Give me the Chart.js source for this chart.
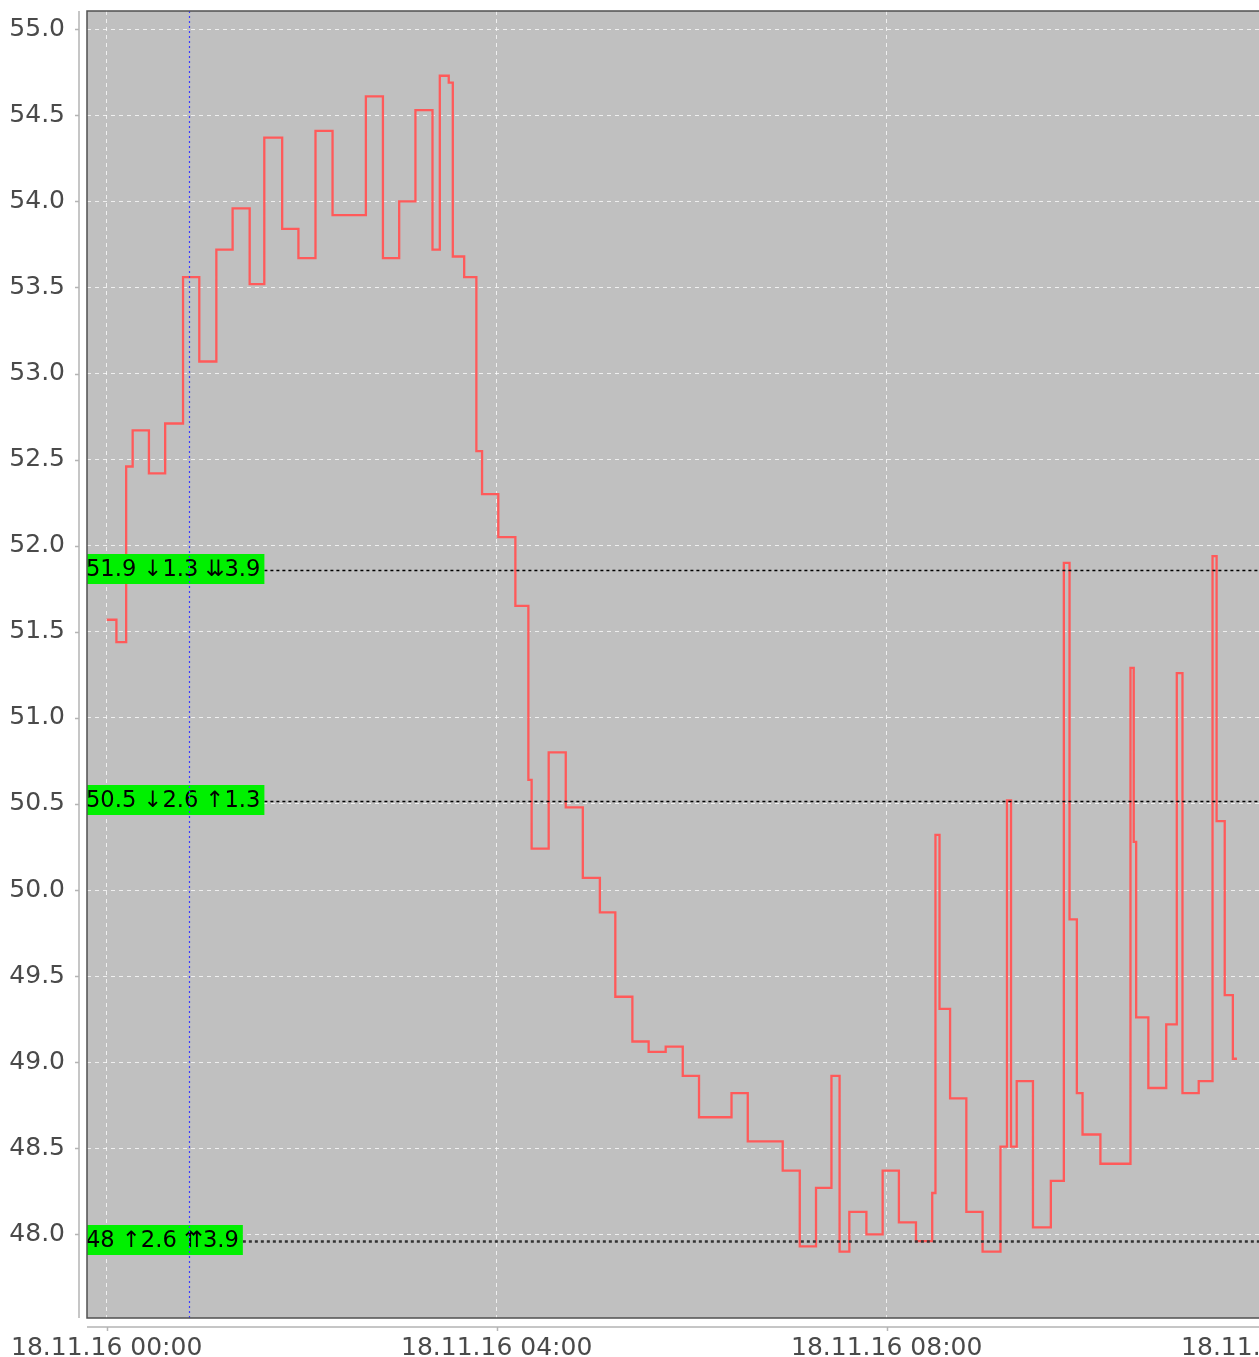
<!DOCTYPE html>
<html>
<head>
<meta charset="utf-8">
<script src="https://cdn.jsdelivr.net/npm/chart.js@4/dist/chart.umd.min.js"></script>
<style>
  html, body { margin: 0; padding: 0; background: #fff; overflow: hidden; }
</style>
</head>
<body>
<canvas id="myChart" width="1400" height="1357"></canvas>
<script>
// minutes since 18.11.16 00:00, each value holds until the next point
let minutes = [0, 6, 12, 16, 26, 36, 47, 57, 67.5, 77.5, 88, 97, 108, 118, 128.5, 139, 159.5, 170, 180, 190,
    200.5, 205, 210.5, 213, 220, 227.5, 231, 241, 251.5, 259.5, 261.5, 272, 282.5, 293, 303.5, 313, 323.5, 333.5,
    344, 354.5, 364.5, 384.5, 394.5, 416, 426.5, 436.5, 446, 451, 457, 467.5, 477.5, 487.5, 498, 508, 510, 512.5,
    519, 529, 539, 550, 554, 556.5, 560, 570, 581, 589, 592.5, 597, 600.5, 611.5, 630, 632, 633.5, 641, 652,
    658.5, 662, 672, 680.5, 683, 688, 693, 695.5];
let values = [51.57, 51.44, 52.46, 52.67, 52.42, 52.71, 53.56, 53.07, 53.72, 53.96, 53.52, 54.37, 53.84, 53.67, 54.41, 53.92, 54.61, 53.67, 54.00, 54.53,
    53.72, 54.73, 54.69, 53.68, 53.56, 52.55, 52.30, 52.05, 51.65, 50.64, 50.24, 50.80, 50.48, 50.07, 49.87, 49.38, 49.12, 49.06,
    49.09, 48.92, 48.68, 48.82, 48.54, 48.37, 47.93, 48.27, 48.92, 47.90, 48.13, 48.00, 48.37, 48.07, 47.96, 48.24, 50.32, 49.31,
    48.79, 48.13, 47.90, 48.51, 50.52, 48.51, 48.89, 48.04, 48.31, 51.90, 49.83, 48.82, 48.58, 48.41, 51.29, 50.28, 49.26, 48.85, 49.22,
    51.26, 48.82, 48.89, 51.94, 50.40, 49.39, 49.02, 49.02];

let xTicks = [0, 240, 480, 720];
let yTicks = [48.0, 48.5, 49.0, 49.5, 50.0, 50.5, 51.0, 51.5, 52.0, 52.5, 53.0, 53.5, 54.0, 54.5, 55.0];

let levels = [51.86, 50.52, 47.96];
let levelLabels = ['51.9 ↓1.3 ⇊3.9', '50.5 ↓2.6 ↑1.3', '48 ↑2.6 ⇈3.9'];
let markerMinute = 50.5;

function hhmm(m) {
    let h = Math.floor(m / 60), mm = Math.round(m % 60);
    return '18.11.16 ' + String(h).padStart(2, '0') + ':' + String(mm).padStart(2, '0');
}

// keep the plot area where the reference has it, labels may hang over
function noPadding(s) {
    s.paddingTop = 0;
    s.paddingBottom = 0;
    s.paddingLeft = 0;
    s.paddingRight = 0;
}

const decor = {
    id: 'decor',
    beforeDraw(chart) {
        const {ctx, chartArea: a} = chart;
        ctx.save();
        ctx.fillStyle = '#c0c0c0';
        ctx.fillRect(a.left, a.top, a.right - a.left, a.bottom - a.top);
        ctx.restore();
    },
    afterDatasetsDraw(chart) {
        const {ctx, chartArea: a, scales: {x, y}} = chart;
        ctx.save();
        ctx.font = '22.6px "DejaVu Sans"';
        ctx.textBaseline = 'middle';
        levels.forEach((v, i) => {
            let py = Math.round(y.getPixelForValue(v));
            let w = ctx.measureText(levelLabels[i]).width + 3;
            ctx.strokeStyle = i == 2 ? '#333' : '#000';
            ctx.lineWidth = i == 2 ? 2.5 : 1.5;
            ctx.setLineDash([3, 3]);
            ctx.beginPath();
            ctx.moveTo(a.left + w, py + 0.5);
            ctx.lineTo(a.right, py + 0.5);
            ctx.stroke();
            ctx.fillStyle = '#00f000';
            ctx.fillRect(a.left, py - 16, w, 30);
            ctx.fillStyle = '#000';
            ctx.fillText(levelLabels[i], a.left - 1, py);
        });
        // marker
        let mx = Math.round(x.getPixelForValue(markerMinute)) + 0.5;
        ctx.strokeStyle = '#3c3cff';
        ctx.lineWidth = 1.2;
        ctx.setLineDash([2, 3]);
        ctx.beginPath();
        ctx.moveTo(mx, a.top);
        ctx.lineTo(mx, a.bottom);
        ctx.stroke();
        ctx.setLineDash([]);
        // plot border
        ctx.strokeStyle = '#505050';
        ctx.lineWidth = 1.5;
        ctx.strokeRect(a.left, a.top, a.right - a.left, a.bottom - a.top);
        // offset axis lines
        ctx.strokeStyle = '#b4b4b4';
        ctx.lineWidth = 1.5;
        ctx.beginPath();
        ctx.moveTo(a.left - 8, a.top);
        ctx.lineTo(a.left - 8, a.bottom);
        yTicks.forEach(t => {
            let py = Math.round(y.getPixelForValue(t)) + 0.5;
            ctx.moveTo(a.left - 12, py);
            ctx.lineTo(a.left - 8, py);
        });
        ctx.moveTo(a.left, a.bottom + 9);
        ctx.lineTo(a.right, a.bottom + 9);
        xTicks.forEach(t => {
            let px = Math.round(x.getPixelForValue(t)) + 0.5;
            ctx.moveTo(px, a.bottom + 9);
            ctx.lineTo(px, a.bottom + 13);
        });
        ctx.stroke();
        ctx.restore();
    }
};

Chart.defaults.font.family = '"DejaVu Sans"';

let context = document.getElementById('myChart').getContext('2d');
let chart = new Chart(context, {
    type: 'line',
    data: {
        datasets: [
            {
                data: minutes.map((m, i) => ({x: m, y: values[i]})),
                borderColor: '#ff5a5a',
                borderWidth: 2.3,
                stepped: true,
                pointRadius: 0,
                fill: false
            }
        ]
    },
    options: {
        responsive: false,
        devicePixelRatio: 1,
        animation: false,
        layout: {padding: {top: 11, right: 10, left: 0, bottom: 0}},
        plugins: {legend: {display: false}, tooltip: {enabled: false}},
        scales: {
            x: {
                type: 'linear',
                min: -12.1,
                max: 789.7,
                afterFit(s) { s.height = 39; noPadding(s); },
                afterBuildTicks(s) { s.ticks = xTicks.map(v => ({value: v})); },
                grid: {color: 'rgba(255,255,255,0.75)', drawTicks: false, lineWidth: 1},
                border: {display: false, dash: [4, 4]},
                ticks: {
                    color: '#4a4a4a',
                    font: {size: 25},
                    padding: 15,
                    maxRotation: 0,
                    autoSkip: false,
                    callback: v => hhmm(v)
                }
            },
            y: {
                min: 47.514,
                max: 55.106,
                afterFit(s) { s.width = 87; noPadding(s); },
                afterBuildTicks(s) { s.ticks = yTicks.map(v => ({value: v})); },
                grid: {color: 'rgba(255,255,255,0.75)', drawTicks: false, lineWidth: 1},
                border: {display: false, dash: [4, 4]},
                ticks: {
                    color: '#4a4a4a',
                    font: {size: 25},
                    padding: 22,
                    callback: v => v.toFixed(1)
                }
            }
        }
    },
    plugins: [decor]
});
</script>
</body>
</html>
